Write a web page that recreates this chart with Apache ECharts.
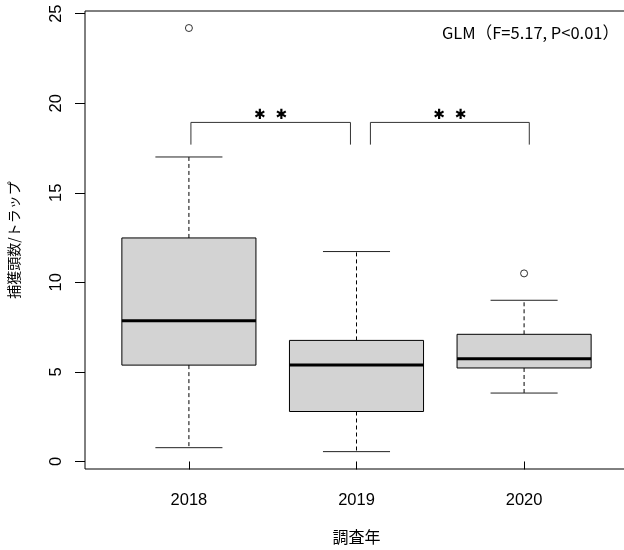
<!DOCTYPE html>
<html>
<head>
<meta charset="utf-8">
<script src="https://cdn.jsdelivr.net/npm/echarts@6/dist/echarts.min.js"></script>
<style>
    html, body { margin: 0; padding: 0; background: #fff; }
    #chart { width: 624px; height: 550px; }
</style>
</head>
<body>
<div id="chart"></div>
<script>
// 調査年ごとの箱ひげ図データ
var years = ['2018', '2019', '2020'];
var whiskerLow = [0.77, 0.55, 3.82];
var q1 = [5.38, 2.79, 5.22];
var median = [7.86, 5.38, 5.74];
var q3 = [12.48, 6.76, 7.10];
var whiskerHigh = [17.0, 11.72, 9.0];
// 外れ値 [年の位置, 値]
var outliers = [[1, 24.2], [3, 10.5]];
var yTicks = [0, 5, 10, 15, 20, 25];
// 有意差の括弧 [x左, x右, 上端, 下端]
var brackets = [[1.012, 1.964, 18.93, 17.69], [2.083, 3.031, 18.93, 17.69]];
var starText = ['✱  ✱', '✱  ✱'];
var starY = [19.35, 19.35];

var xPos = years.map(function (y, i) { return i + 1; });
var boxData = years.map(function (y, i) {
    return [xPos[i], whiskerLow[i], q1[i], median[i], q3[i], whiskerHigh[i]];
});
var bracketData = brackets.map(function (b, i) {
    return b.concat([starY[i], i]);
});

var BOX_W = 0.8, STAPLE_W = 0.4;

function renderBox(params, api) {
    var x = api.value(0);
    var pLow = api.coord([x, api.value(1)]);
    var pQ1 = api.coord([x, api.value(2)]);
    var pMed = api.coord([x, api.value(3)]);
    var pQ3 = api.coord([x, api.value(4)]);
    var pHigh = api.coord([x, api.value(5)]);
    var hb = api.size([BOX_W, 0])[0] / 2;
    var hs = api.size([STAPLE_W, 0])[0] / 2;
    var cx = pMed[0];
    var dashStyle = { stroke: '#000', lineWidth: 1, lineDash: [4, 3] };
    return {
        type: 'group',
        children: [
            { type: 'line', shape: { x1: cx, y1: pQ3[1], x2: cx, y2: pHigh[1] }, style: dashStyle },
            { type: 'line', shape: { x1: cx, y1: pQ1[1], x2: cx, y2: pLow[1] }, style: dashStyle },
            { type: 'line', shape: { x1: cx - hs, y1: pHigh[1], x2: cx + hs, y2: pHigh[1] }, style: { stroke: '#222', lineWidth: 1 } },
            { type: 'line', shape: { x1: cx - hs, y1: pLow[1], x2: cx + hs, y2: pLow[1] }, style: { stroke: '#222', lineWidth: 1 } },
            { type: 'rect', shape: { x: cx - hb, y: pQ3[1], width: hb * 2, height: pQ1[1] - pQ3[1] },
              style: { fill: '#d3d3d3', stroke: '#000', lineWidth: 1 } },
            { type: 'line', shape: { x1: cx - hb, y1: pMed[1], x2: cx + hb, y2: pMed[1] }, style: { stroke: '#000', lineWidth: 3 } }
        ]
    };
}

function renderBracket(params, api) {
    var a = api.coord([api.value(0), api.value(2)]);
    var b = api.coord([api.value(1), api.value(2)]);
    var aB = api.coord([api.value(0), api.value(3)]);
    var bB = api.coord([api.value(1), api.value(3)]);
    var s = api.coord([(api.value(0) + api.value(1)) / 2, api.value(4)]);
    return {
        type: 'group',
        children: [
            { type: 'polyline', shape: { points: [aB, a, b, bB] }, style: { stroke: '#333', lineWidth: 1, fill: null } },
            { type: 'text', x: s[0], y: s[1],
              style: { text: starText[api.value(5)], fill: '#000', align: 'center', verticalAlign: 'middle',
                       font: 'bold 14px "DejaVu Sans"' } }
        ]
    };
}

var chart = echarts.init(document.getElementById('chart'));
chart.setOption({
    animation: false,
    backgroundColor: '#fff',
    grid: {
        left: 85, right: -4, top: 11, bottom: 81,
        outerBoundsMode: 'none', containLabel: false,
        show: true, borderColor: '#000', borderWidth: 1, backgroundColor: 'transparent'
    },
    xAxis: {
        type: 'value', min: 0.38, max: 3.62,
        name: '調査年', nameLocation: 'middle', nameGap: 60,
        nameTextStyle: { fontFamily: 'Noto Sans CJK JP', fontSize: 16, color: '#000' },
        axisLine: { show: false },
        splitLine: { show: false },
        axisTick: { show: true, length: 8, customValues: xPos, lineStyle: { color: '#000' } },
        axisLabel: {
            customValues: xPos, margin: 23, color: '#000',
            fontFamily: 'Liberation Sans', fontSize: 16.5,
            formatter: function (v) { return years[Math.round(v) - 1]; }
        }
    },
    yAxis: {
        type: 'value', min: -0.42, max: 25.15,
        name: '捕獲頭数/トラップ', nameLocation: 'middle', nameGap: 64, nameRotate: 90,
        nameTextStyle: { fontFamily: 'Noto Sans CJK JP', fontSize: 14, color: '#000' },
        axisLine: { show: false },
        splitLine: { show: false },
        axisTick: { show: true, length: 10, customValues: yTicks, lineStyle: { color: '#000' } },
        axisLabel: {
            customValues: yTicks, rotate: 90, margin: 20, color: '#000',
            fontFamily: 'Liberation Sans', fontSize: 16.5
        }
    },
    graphic: [{
        type: 'text', right: 5, top: 24,
        style: { text: 'GLM（F=5.17, P<0.01）', fill: '#000', font: '16.5px "Noto Sans CJK JP"' }
    }],
    series: [
        { type: 'custom', renderItem: renderBox, data: boxData, encode: { x: 0, y: [1, 2, 3, 4, 5] } },
        { type: 'scatter', data: outliers, symbol: 'circle', symbolSize: 7,
          itemStyle: { color: '#fff', borderColor: '#000', borderWidth: 1 } },
        { type: 'custom', renderItem: renderBracket, data: bracketData, encode: { x: [0, 1], y: [2, 3, 4] } }
    ]
});
</script>
</body>
</html>
